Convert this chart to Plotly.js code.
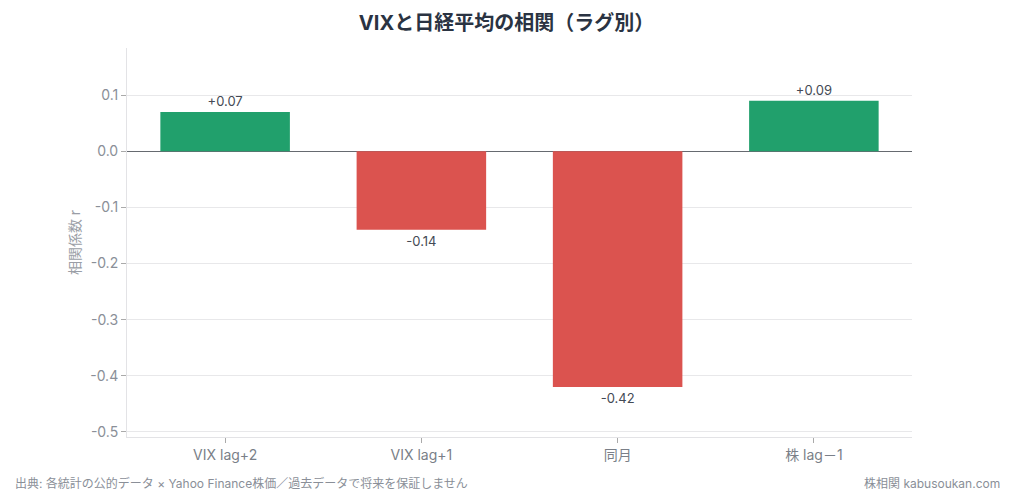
<!DOCTYPE html>
<html><head><meta charset="utf-8">
<script src="https://cdn.plot.ly/plotly-3.0.1.min.js"></script>
<style>body{margin:0;background:#fff}#c{width:1013px;height:500px}</style>
</head><body><div id="c"></div>
<script>
const categories = ["VIX lag+2", "VIX lag+1", "同月", "株 lag－1"];
const values = [0.07, -0.14, -0.42, 0.09];
const labels = ["+0.07", "-0.14", "-0.42", "+0.09"];
const yTicks = [0.1, 0, -0.1, -0.2, -0.3, -0.4, -0.5];
const yTickText = ["0.1", "0.0", "-0.1", "-0.2", "-0.3", "-0.4", "-0.5"];

const FONT = 'Inter, "Noto Sans CJK JP", sans-serif';
const colors = values.map(v => v >= 0 ? "#21a06c" : "#db534f");

Plotly.newPlot("c", [{
  type: "bar", x: categories, y: values, text: labels,
  textposition: "outside", cliponaxis: false,
  textfont: {family: FONT, size: 13, color: "#444a55"},
  marker: {color: colors}, hoverinfo: "none"
}], {
  width: 1013, height: 500,
  margin: {l: 127, r: 101, t: 48, b: 63},
  paper_bgcolor: "#fff", plot_bgcolor: "#fff",
  font: {family: FONT},
  bargap: 0.34,
  title: {text: "<b>VIXと日経平均の相関（ラグ別）</b>", x: 0.5, xanchor: "center", y: 0.955, yanchor: "middle",
    font: {family: FONT, size: 20, color: "#2a3342"}},
  xaxis: {showgrid: false, showline: true, linecolor: "#e3e3e6", ticks: "outside", tickcolor: "#aaaaaa",
    ticklen: 5, tickfont: {family: FONT, size: 14, color: "#7a7f88"}},
  yaxis: {range: [-0.509, 0.184], tickvals: yTicks, ticktext: yTickText, showgrid: true, gridcolor: "#e8e8ea",
    showline: true, linecolor: "#e3e3e6", ticks: "outside", tickcolor: "#aaaaaa", ticklen: 5,
    zeroline: true, zerolinecolor: "#666a70", zerolinewidth: 1,
    tickfont: {family: FONT, size: 14, color: "#8a8f98"},
    title: {text: "相関係数 r", font: {family: FONT, size: 14, color: "#9a9ea6"}, standoff: 6}},
  showlegend: false,
  annotations: [
    {text: "出典: 各統計の公的データ × Yahoo Finance株価／過去データで将来を保証しません", xref: "paper", yref: "paper",
      x: -114/785, y: -46/389, xanchor: "left", yanchor: "middle", showarrow: false,
      font: {family: FONT, size: 12, color: "#8a8f98"}},
    {text: "株相関 kabusoukan.com", xref: "paper", yref: "paper",
      x: (1002-127)/785, y: -46/389, xanchor: "right", yanchor: "middle", showarrow: false,
      font: {family: FONT, size: 12, color: "#8a8f98"}}
  ]
}, {displayModeBar: false, staticPlot: true});
</script></body></html>
